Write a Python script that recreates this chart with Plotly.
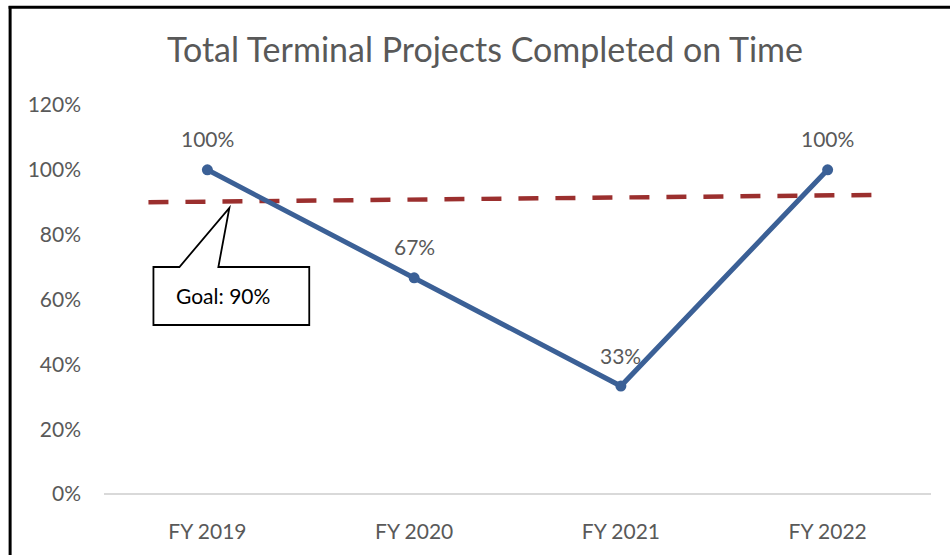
import plotly.graph_objects as go

categories = ["FY 2019", "FY 2020", "FY 2021", "FY 2022"]
on_time_pct = [100, 66.7, 33.3, 100]
data_labels = ["100%", "67%", "33%", "100%"]
goal_x = [-0.285, 3.275]
goal_pct = [90, 92.3]
y_ticks = [0, 20, 40, 60, 80, 100, 120]
y_tick_labels = ["0%", "20%", "40%", "60%", "80%", "100%", "120%"]
goal_text = "Goal: 90%"

W, H = 950, 555
L, R, T, B = 103.5, 18.5, 105, 61
pw, ph = W - L - R, H - T - B

def px_x(px):
    return (px - L) / pw

def px_y(py):
    return (H - B - py) / ph

FONT = "Lato, 'Open Sans', sans-serif"
GRAY = "#595959"

fig = go.Figure()

fig.add_trace(go.Scatter(
    x=goal_x, y=goal_pct, mode="lines",
    line=dict(color="#9B2F2E", width=4.5, dash="20px,17px"),
    hoverinfo="skip", showlegend=False,
))

fig.add_trace(go.Scatter(
    x=list(range(len(categories))), y=on_time_pct,
    mode="lines+markers",
    line=dict(color="#3B6096", width=5),
    marker=dict(color="#3B6096", size=11),
    showlegend=False,
))

# callout shape (x in category units, y in %)
def cx(px):
    return (px - 207) / 207.0

def cy(py):
    return (494 - py) / 3.2417

bx0, bx1, by0, by1 = cx(153), cx(309), cy(267), cy(325)
path = (f"M {bx0},{by0} L {cx(179)},{by0} L {cx(229)},{cy(208)} L {cx(218)},{by0} "
        f"L {bx1},{by0} L {bx1},{by1} L {bx0},{by1} Z")

shapes = [
    dict(type="path", path=path, xref="x", yref="y",
         fillcolor="white", line=dict(color="black", width=1.8), layer="above"),
    # chart frame (top and left edges)
    dict(type="line", xref="paper", yref="paper",
         x0=px_x(8), x1=px_x(952), y0=px_y(7.3), y1=px_y(7.3),
         line=dict(color="black", width=3)),
    dict(type="line", xref="paper", yref="paper",
         x0=px_x(9.5), x1=px_x(9.5), y0=px_y(6), y1=px_y(560),
         line=dict(color="black", width=3)),
]

annotations = [
    dict(x=cx(174), y=cy(295), xref="x", yref="y", text=goal_text,
         showarrow=False, xanchor="left", yanchor="middle",
         font=dict(family=FONT, size=21, color="black")),
]
for i, (v, lab) in enumerate(zip(on_time_pct, data_labels)):
    annotations.append(dict(
        x=i, y=v, xref="x", yref="y", text=lab, showarrow=False,
        xanchor="center", yanchor="middle", yshift=31,
        font=dict(family=FONT, size=21, color=GRAY),
    ))

fig.update_layout(
    width=W, height=H,
    margin=dict(l=L, r=R, t=T, b=B, pad=0),
    paper_bgcolor="white", plot_bgcolor="white",
    title=dict(text="Total Terminal Projects Completed on Time",
               x=485 / W, xanchor="center", xref="container",
               y=1 - 50 / H, yanchor="middle", yref="container",
               font=dict(family=FONT, size=34, color=GRAY)),
    xaxis=dict(range=[-0.5, 3.5], tickvals=list(range(len(categories))),
               ticktext=categories, showgrid=False, zeroline=False,
               showline=False, ticks="", ticklabelstandoff=23,
               tickfont=dict(family=FONT, size=21, color=GRAY)),
    yaxis=dict(range=[0, 120], tickvals=y_ticks, ticktext=y_tick_labels,
               showgrid=False, zeroline=True, zerolinecolor="#D9D9D9",
               zerolinewidth=2, showline=False, ticks="",
               ticklabelstandoff=22,
               tickfont=dict(family=FONT, size=21, color=GRAY)),
    shapes=shapes, annotations=annotations,
)

fig.write_html(
    "out.html",
    config={"displayModeBar": False},
    post_script="document.body.style.margin='0';document.body.style.overflow='hidden';",
)
